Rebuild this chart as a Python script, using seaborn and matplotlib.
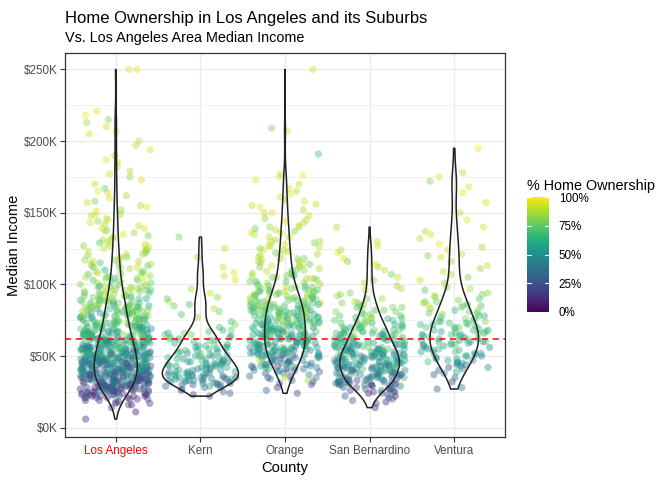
import numpy as np
import pandas as pd
import matplotlib
matplotlib.use("Agg")
import matplotlib.pyplot as plt
import seaborn as sns
from matplotlib.ticker import FuncFormatter, MultipleLocator
from matplotlib.cm import ScalarMappable
from matplotlib.colors import Normalize

# ---------------- data: (median income in $K, % home ownership) ----------------
counties = ["Los Angeles", "Kern", "Orange", "San Bernardino", "Ventura"]
la_median_income = 62  # $K, LA area median income (red dashed line)

los_angeles = [
    (6,10),(11,5),(14,15),
    (16,8),(17,12),(18,6),(18,20),(19,10),(19,15),(17,25),(16,18),
    (20,12),(21,8),(21,18),(22,22),(22,10),(23,14),(23,30),(23,6),(24,20),(24,12),(20,25),(21,16),(22,28),(24,9),(23,19),(24,33),(22,15),(21,11),
    (25,15),(25,22),(26,10),(26,30),(26,18),(27,25),(27,12),(27,35),(28,20),(28,14),(28,28),(29,18),(29,40),(29,8),(25,35),(26,24),(27,19),(28,45),(29,26),(25,11),(26,16),(27,30),(28,22),(29,33),(25,27),(26,38),(27,9),(28,17),
    (30,20),(30,30),(30,14),(31,25),(31,40),(31,18),(32,22),(32,35),(32,12),(33,28),(33,45),(33,20),(34,30),(34,16),(34,50),(30,38),(31,10),(32,27),(33,33),(34,24),(30,42),(31,31),(32,19),(33,55),(34,36),(30,25),(31,48),(32,44),(33,15),(34,29),(30,17),(31,36),(32,52),(33,23),(34,41),
    (35,25),(35,40),(35,18),(36,32),(36,55),(36,22),(37,28),(37,45),(37,15),(38,35),(38,60),(38,24),(39,30),(39,48),(39,20),(35,50),(36,38),(37,34),(38,42),(39,27),(35,33),(36,26),(37,58),(38,19),(39,52),(35,44),(36,47),(37,23),(38,31),(39,38),(35,29),(36,62),(37,40),(38,51),(39,35),(35,21),(36,30),(37,46),
    (40,30),(40,45),(40,22),(41,38),(41,55),(41,28),(42,35),(42,62),(42,25),(43,42),(43,50),(43,30),(44,36),(44,58),(44,24),(40,52),(41,40),(42,47),(43,33),(44,45),(40,37),(41,65),(42,29),(43,56),(44,40),(40,27),(41,48),(42,41),(43,20),(44,52),(40,60),(41,34),(42,53),(43,38),(44,30),(40,43),(41,25),(42,70),
    (45,35),(45,50),(45,28),(46,42),(46,60),(46,32),(47,38),(47,55),(47,26),(48,45),(48,65),(48,35),(49,40),(49,58),(49,30),(45,62),(46,48),(47,44),(48,52),(49,36),(45,42),(46,70),(47,33),(48,57),(49,47),(45,55),(46,38),(47,64),(48,29),(49,68),(45,31),(46,53),(47,49),(48,40),(49,24),(45,72),
    (50,40),(50,55),(50,32),(51,48),(51,65),(51,38),(52,44),(52,60),(52,30),(53,52),(53,70),(53,40),(54,46),(54,62),(54,35),(50,68),(51,57),(52,50),(53,45),(54,55),(50,47),(51,72),(52,37),(53,63),(54,42),(50,60),(51,43),(52,75),(53,34),(54,66),(50,52),(52,58),
    (55,45),(55,62),(55,38),(56,52),(56,70),(56,42),(57,48),(57,65),(57,35),(58,55),(58,75),(58,44),(59,50),(59,68),(59,40),(55,58),(56,60),(57,54),(58,62),(59,57),(55,70),(56,47),(57,72),(58,50),(59,63),(55,52),(57,42),(59,78),
    (60,50),(60,65),(60,40),(61,55),(61,72),(61,45),(62,58),(62,68),(62,38),(63,60),(63,76),(63,48),(64,54),(64,70),(64,44),(60,58),(61,62),(62,52),(63,66),(64,60),(60,74),(61,50),(62,80),(63,42),(64,64),
    (65,55),(65,70),(65,45),(66,60),(66,78),(66,50),(67,62),(67,72),(67,42),(68,65),(68,80),(68,52),(69,58),(69,74),(69,48),(65,62),(66,68),(67,56),(68,70),(69,64),(65,82),(67,50),
    (70,60),(70,75),(70,50),(71,65),(71,80),(71,55),(72,68),(72,78),(72,46),(73,70),(73,84),(73,58),(74,62),(74,76),(74,52),(70,70),(71,64),(72,60),(74,82),
    (75,62),(75,78),(75,52),(76,68),(76,84),(76,58),(77,70),(77,80),(77,48),(78,72),(78,86),(78,60),(79,66),(79,78),(79,55),(76,74),(78,64),
    (80,65),(80,80),(80,55),(81,72),(81,85),(82,60),(82,76),(82,88),(83,70),(83,82),(83,50),(84,68),(84,78),(84,62),(81,74),
    (85,70),(85,82),(85,58),(86,75),(86,88),(87,65),(87,80),(88,72),(88,85),(88,55),(89,78),(89,68),(86,62),
    (90,72),(90,85),(90,60),(91,78),(92,66),(92,88),(93,75),(93,82),(94,70),(94,90),(91,58),
    (95,75),(95,88),(96,68),(96,82),(97,78),(97,90),(98,72),(98,85),(99,64),(99,80),
    (100,78),(101,85),(102,70),(102,90),(103,80),(104,65),(104,88),(105,76),(106,84),(107,72),(107,92),(108,80),(109,86),(110,60),
    (111,82),(112,90),(113,75),(114,86),(115,70),(116,92),(117,80),(118,88),(119,78),(120,84),
    (121,88),(122,80),(123,92),(124,76),(125,86),(126,94),(127,82),(128,90),(129,72),
    (131,85),(132,92),(134,80),(135,95),(137,88),(138,84),(139,96),
    (141,90),(143,94),(144,82),(146,88),(148,96),(149,86),
    (151,92),(152,84),(154,96),(155,88),(157,90),(158,80),(160,94),(162,86),(164,92),(165,97),(167,78),(170,90),(173,94),(175,84),(177,92),(179,88),(182,96),(185,90),(187,94),(190,86),(194,92),(197,88),
    (200,90),(205,94),(207,96),(210,92),(213,86),(215,80),(218,98),(221,95),(250,96),(250,94),
    # more tracts
    (20,15),(21,22),(22,8),(23,18),(24,26),(25,12),(26,20),(27,32),(28,10),(29,22),(25,30),(27,16),(29,14),(23,24),(26,34),
    (30,28),(31,22),(32,40),(33,18),(34,33),(35,26),(36,42),(37,20),(38,28),(39,45),(30,33),(31,14),(32,30),(33,38),(34,20),(35,37),(36,18),(37,31),(38,47),(39,24),(30,45),(32,16),(34,44),(36,35),(38,22),
    (40,35),(41,50),(42,32),(43,46),(44,28),(45,40),(46,55),(47,30),(48,48),(49,36),(40,48),(41,30),(42,58),(43,26),(44,62),(45,45),(46,35),(47,60),(48,33),(49,52),(40,25),(42,44),(44,38),(46,66),(48,42),(41,58),(43,35),(45,25),(47,50),(49,45),
    (50,45),(51,60),(52,40),(53,55),(54,38),(55,65),(56,50),(57,40),(58,66),(59,46),(50,58),(51,35),(52,66),(53,48),(54,72),(55,42),(56,58),(57,74),(58,38),(59,60),(50,50),(52,54),(54,58),(56,44),(58,70),(51,52),(53,62),(55,50),(57,58),(59,72),
    (60,62),(61,46),(62,70),(63,54),(64,76),(65,50),(66,66),(67,76),(68,56),(69,70),(60,55),(61,68),(62,48),(63,72),(64,58),(65,74),(66,54),(67,66),(68,76),(69,60),(60,68),(62,62),(64,68),(66,72),(68,62),
    (70,66),(71,72),(72,62),(73,78),(74,68),(75,74),(76,62),(77,76),(78,80),(79,70),(70,78),(71,58),(72,74),(73,66),(74,72),(75,82),(76,70),(77,64),(78,76),(79,84),
    (80,74),(81,68),(82,80),(83,76),(84,84),(85,74),(86,80),(87,70),(88,82),(89,76),(80,70),(82,84),(84,74),(86,72),(88,78),(81,80),(83,66),(85,86),
    (90,78),(91,84),(92,74),(93,80),(94,76),(95,82),(96,78),(97,84),(98,70),(99,86),(90,66),(92,82),(94,78),(96,88),(98,82),
    (100,82),(101,76),(102,86),(103,72),(104,84),(105,88),(106,78),(107,82),(108,90),(109,76),(111,86),(113,82),(115,88),(117,84),(119,90),(112,76),(114,80),(116,86),
    (121,84),(123,88),(125,90),(127,86),(129,92),(131,88),(133,90),(136,84),(139,92),(142,88),(145,92),(148,90),
]

kern = [
    (22,20),(23,15),(24,25),(25,32),(26,22),(27,28),(28,20),(28,35),(29,30),(29,55),(30,25),(30,40),
    (30,48),(31,35),(31,55),(32,30),(32,45),(33,40),(33,60),(34,35),(34,50),(35,42),(35,58),(36,38),(36,52),(36,62),(37,45),(37,30),(38,55),(38,40),(39,48),(39,60),(31,42),(33,52),(35,35),(37,57),(39,44),(34,64),
    (30,38),(31,30),(32,52),(33,35),(34,42),(35,50),(36,45),(37,38),(38,48),(39,52),(33,46),(35,28),(37,62),
    (40,50),(40,62),(41,45),(42,55),(42,68),(43,48),(44,58),(45,52),(45,65),(46,42),(46,60),(47,55),(47,70),(48,50),(48,62),(49,58),(41,38),(43,65),(44,45),(49,68),
    (40,40),(41,55),(42,48),(43,58),(44,52),(45,60),(47,48),(45,48),(46,55),(48,58),(44,60),(42,62),
    (50,55),(51,65),(52,48),(53,62),(54,70),(55,58),(56,66),(57,52),(58,72),(59,60),(52,75),(56,45),(50,60),(52,66),(55,62),
    (50,52),(51,58),(53,50),(54,62),(56,58),(57,64),(58,55),
    (60,65),(61,72),(62,58),(63,70),(64,62),(65,78),(66,62),(67,70),(68,75),(70,68),(72,80),(74,70),(77,84),(79,72),(62,74),(66,80),
    (61,66),(63,60),(65,70),(68,64),
    (81,78),(83,88),(85,75),(88,90),(91,82),(94,92),(97,86),(86,70),(90,76),
    (103,94),(106,90),(108,95),(112,92),(119,88),(125,90),(133,80),
]

orange = [
    (24,20),(26,30),(28,15),(30,25),(31,35),(32,18),(33,28),(34,40),(35,22),(36,32),(36,12),(37,45),(38,26),(38,38),(39,30),(39,50),(35,42),(33,85),(35,90),
    (40,30),(40,45),(41,22),(41,38),(42,50),(42,28),(43,35),(43,55),(44,25),(44,42),(45,32),(45,48),(46,38),(46,60),(47,28),(47,44),(48,52),(48,35),(49,40),(49,58),(41,65),(43,20),(45,70),(47,88),
    (50,35),(50,50),(50,62),(51,40),(51,55),(52,30),(52,48),(52,68),(53,42),(53,58),(54,36),(54,52),(54,70),(55,45),(55,60),(56,38),(56,55),(56,72),(57,48),(57,62),(58,40),(58,56),(58,75),(59,50),(59,65),(50,28),(51,45),(53,66),(55,33),(57,52),(59,44),(52,58),(54,46),(56,64),
    (60,45),(60,60),(60,72),(61,50),(61,66),(62,40),(62,58),(62,76),(63,52),(63,68),(64,46),(64,62),(64,78),(65,55),(65,70),(66,48),(66,64),(66,80),(67,58),(67,72),(68,50),(68,66),(68,82),(69,60),(69,74),(60,36),(61,56),(63,42),(65,62),(67,48),(69,54),(62,68),(64,55),(66,58),
    (70,55),(70,68),(70,80),(71,60),(71,74),(72,50),(72,65),(72,84),(73,62),(73,76),(74,56),(74,70),(74,86),(75,64),(75,78),(76,58),(76,72),(76,88),(77,66),(77,80),(78,60),(78,74),(79,68),(79,82),(70,46),(72,58),(74,62),(76,66),(78,52),(71,70),(73,56),(77,60),
    (80,62),(80,76),(80,88),(81,66),(81,80),(82,58),(82,72),(82,90),(83,68),(83,82),(84,62),(84,76),(85,70),(85,86),(86,64),(86,78),(87,72),(87,88),(88,66),(88,80),(89,74),(89,90),(80,56),(82,64),(84,70),(86,60),(88,76),(81,72),(83,60),(85,78),
    (90,70),(90,84),(91,76),(91,90),(92,66),(92,80),(93,74),(93,88),(94,70),(94,84),(95,78),(95,92),(96,72),(96,86),(97,68),(97,80),(98,76),(98,90),(99,82),(99,70),(91,62),(95,66),
    (100,78),(101,88),(102,72),(103,84),(104,92),(105,76),(106,86),(107,70),(108,82),(109,90),(110,76),(111,88),(112,80),(113,92),(114,74),(115,86),(116,82),(117,90),(118,78),(119,94),(102,66),(106,60),(110,84),(114,90),(118,85),(104,80),
    (120,84),(121,92),(122,78),(123,88),(124,94),(125,82),(126,90),(127,86),(128,96),(129,80),(130,90),(131,84),(133,92),(135,88),(136,96),(137,82),(138,90),(139,76),
    (140,86),(141,94),(143,88),(144,96),(146,82),(148,92),(150,90),(152,86),(154,98),(156,90),(158,94),(159,88),
    (161,92),(163,96),(165,88),(167,94),(170,90),(173,97),(175,95),(176,98),(177,92),(191,70),
    (207,96),(209,80),(250,94),
    # more tracts
    (40,38),(41,48),(42,36),(43,44),(44,52),(45,40),(46,46),(47,36),(48,44),(49,50),(42,42),(46,30),
    (50,44),(51,58),(52,52),(53,48),(54,60),(55,50),(56,44),(57,56),(58,62),(59,52),(50,56),(52,44),(54,54),(56,60),(58,48),(51,50),(53,52),(55,64),(57,44),(59,58),
    (60,52),(61,62),(62,50),(63,64),(64,52),(65,66),(66,56),(67,64),(68,58),(69,68),(60,64),(62,54),(64,70),(66,52),(68,62),(61,60),(63,56),(65,58),(67,68),(69,62),
    (70,62),(71,66),(72,72),(73,68),(74,74),(75,70),(76,62),(77,74),(78,68),(79,76),(70,72),(72,60),(74,66),(76,78),(78,70),(71,64),(73,72),(75,60),(77,70),(79,64),
    (80,70),(81,76),(82,68),(83,74),(84,80),(85,72),(86,76),(87,68),(88,84),(89,70),(80,80),(82,78),(84,66),(86,84),(88,72),(81,62),(83,78),(85,64),
    (90,76),(91,80),(92,72),(93,84),(94,78),(95,74),(96,82),(97,76),(98,84),(99,74),(90,88),(92,76),(94,82),(96,70),
    (100,84),(102,80),(104,86),(106,82),(108,88),(110,80),(112,86),(114,84),(116,88),(118,82),(101,80),(105,84),
    (121,86),(124,88),(127,92),(130,86),(133,90),(136,92),(140,88),(145,90),(150,94),(155,92),
]

san_bernardino = [
    (14,15),(17,20),(18,10),(19,25),(20,18),(21,30),(22,12),(23,22),(24,35),(25,15),(25,28),(26,20),(26,40),(27,25),(27,12),(28,32),(28,18),(29,38),(29,24),(22,28),(24,8),(27,45),
    (30,20),(30,35),(30,48),(31,28),(31,42),(32,22),(32,38),(32,55),(33,30),(33,45),(34,25),(34,40),(34,58),(35,32),(35,48),(36,28),(36,44),(36,60),(37,35),(37,50),(38,30),(38,46),(38,62),(39,38),(39,54),(30,15),(31,60),(33,18),(35,65),(37,22),(39,42),(32,30),(34,52),(36,36),(38,56),(31,50),
    (40,35),(40,50),(40,65),(41,40),(41,55),(42,30),(42,46),(42,62),(43,38),(43,52),(43,68),(44,42),(44,58),(45,32),(45,48),(45,64),(46,40),(46,55),(46,70),(47,44),(47,60),(48,36),(48,52),(48,66),(49,46),(49,62),(40,25),(41,70),(42,55),(43,28),(44,50),(45,72),(46,34),(47,52),(48,44),(49,56),(40,45),(42,38),(44,65),(46,48),
    (50,42),(50,58),(50,72),(51,48),(51,62),(52,38),(52,54),(52,70),(53,45),(53,60),(54,50),(54,66),(55,40),(55,56),(55,74),(56,48),(56,62),(57,52),(57,68),(58,44),(58,60),(59,55),(59,70),(50,35),(52,64),(54,40),(56,76),(58,52),(51,56),(53,68),(55,48),(57,60),
    (60,50),(60,66),(61,58),(61,74),(62,54),(62,70),(63,60),(63,48),(64,65),(64,78),(65,56),(66,70),(66,62),(67,76),(68,58),(68,72),(69,66),(69,80),(62,62),(65,68),
    (70,62),(70,76),(71,68),(72,80),(73,64),(74,74),(75,70),(75,84),(76,66),(77,78),(78,72),(79,82),(72,58),(76,88),
    (80,72),(81,82),(82,76),(83,88),(84,70),(85,80),(86,84),(87,74),(88,90),(90,78),(92,86),(94,80),(96,90),(99,84),
    (101,88),(103,82),(105,92),(107,78),(110,90),(112,86),(114,94),(116,80),(118,92),(122,96),(124,88),(127,94),(130,92),(140,88),
    # more tracts
    (25,22),(27,30),(29,18),(30,26),(31,34),(32,44),(33,24),(34,36),(35,40),(36,50),(37,28),(38,40),(39,48),(30,40),(32,26),(34,46),(36,22),(38,34),
    (40,40),(41,48),(42,42),(43,56),(44,34),(45,54),(46,60),(47,40),(48,58),(49,50),(40,56),(42,50),(44,44),(46,52),(48,48),(41,36),(43,46),(45,58),(47,66),(49,40),
    (50,50),(51,42),(52,58),(53,52),(54,62),(55,46),(56,54),(57,64),(58,56),(59,48),(50,64),(52,46),(54,56),(56,66),(58,64),(53,38),
    (55,58),(57,50),(59,62),(52,50),(50,46),
    (60,58),(61,64),(62,66),(63,70),(64,56),(65,62),(66,74),(67,60),(68,66),(69,72),(70,70),(72,66),(74,78),(76,72),(78,68),
    (60,62),(61,54),(63,66),(64,72),(66,58),(67,68),(68,74),(70,64),(71,72),(73,70),(75,76),(77,66),(79,74),(82,70),(84,78),(65,60),(72,72),
    (81,76),(84,82),(87,80),(90,86),(93,82),(97,88),
]

ventura = [
    (27,30),(28,40),(32,22),(35,35),(37,28),(38,45),(40,32),(41,50),(42,25),(43,40),(44,55),(44,35),(42,48),(39,60),
    (45,38),(45,55),(46,45),(47,60),(48,42),(48,58),(49,50),(50,65),(50,40),(51,55),(52,48),(52,66),(53,58),(54,44),(54,62),(55,52),(56,68),(56,46),(57,60),(58,54),(58,70),(59,48),(59,64),(46,70),(53,72),(57,40),
    (60,55),(60,70),(61,62),(61,48),(62,66),(63,58),(63,74),(64,60),(65,68),(65,52),(66,72),(66,62),(67,56),(68,70),(68,64),(69,76),(70,60),(70,72),(71,66),(72,78),(72,58),(73,70),(74,64),(74,80),(62,75),(67,80),
    (75,68),(76,76),(77,62),(78,72),(79,82),(80,70),(81,78),(82,66),(83,84),(84,74),(85,80),(86,70),(87,86),(88,76),(89,82),(90,72),(91,88),(93,78),(94,84),(96,74),(97,88),(98,80),(85,90),(92,82),
    (101,84),(103,90),(105,80),(107,88),(109,92),(111,84),(113,90),(116,86),(119,94),(121,88),(124,92),(126,86),(128,96),(120,80),
    (132,90),(135,94),(137,88),(140,92),(145,96),(150,90),(157,94),(164,96),(168,95),(172,82),(175,94),(178,88),(195,98),
    # more tracts
    (55,60),(58,64),(60,62),(62,58),(64,70),(66,66),(68,60),(70,74),(72,68),(74,72),(76,80),(78,66),(80,76),(82,84),(85,72),(88,80),(60,50),(65,56),(69,68),(73,62),(50,52),(52,58),(47,48),
]

y_ticks = [0, 50, 100, 150, 200, 250]
legend_ticks = [0, 25, 50, 75, 100]

# ---------------- build table ----------------
rows = []
for name, pts in zip(counties, [los_angeles, kern, orange, san_bernardino, ventura]):
    for inc, own in pts:
        rows.append((name, inc, own))
df = pd.DataFrame(rows, columns=["County", "Income", "Ownership"])

# ---------------- style ----------------
sns.set_theme(style="white")
plt.rcParams["font.family"] = ["Liberation Sans", "DejaVu Sans"]

fig = plt.figure(figsize=(6.72, 4.8), dpi=100)
ax = fig.add_axes([65/672, 1-437/480, (505-65)/672, (437-53)/480])

np.random.seed(7)
sns.stripplot(data=df, x="County", y="Income", order=counties, hue="Ownership",
              palette="viridis", hue_norm=(0, 100), jitter=0.42, size=5.2,
              alpha=0.42, linewidth=0, legend=False, ax=ax, zorder=2)
sns.violinplot(data=df, x="County", y="Income", order=counties, fill=False,
               color="#222222", linewidth=1.1, inner=None, cut=0,
               density_norm="area", width=0.9, bw_adjust=0.7, ax=ax, zorder=3)
ax.axhline(la_median_income, color="red", linestyle=(0, (4, 3)), linewidth=1.1, zorder=4)

ax.set_xlim(-0.6, 4.6)
ax.set_ylim(-6.5, 261.5)
ax.set_yticks(y_ticks)
ax.yaxis.set_minor_locator(MultipleLocator(25))
ax.yaxis.set_major_formatter(FuncFormatter(lambda v, p: f"${int(v)}K"))

ax.set_axisbelow(True)
ax.grid(True, which="major", color="#EBEBEB", linewidth=1.0)
ax.grid(True, which="minor", axis="y", color="#EBEBEB", linewidth=0.5)
for s in ax.spines.values():
    s.set_color("#333333")
    s.set_linewidth(0.9)

ax.tick_params(axis="both", which="major", length=3.5, width=0.8, color="#333333",
               labelsize=8.4, labelcolor="#4D4D4D", pad=2, bottom=True, left=True)
ax.tick_params(axis="y", which="minor", length=0)
ax.get_xticklabels()[0].set_color("red")

ax.set_xlabel("County", fontsize=10.6, color="black", labelpad=3)
ax.set_ylabel("Median Income", fontsize=10.6, color="black", labelpad=2)

fig.text(65/672, 1-23/480, "Home Ownership in Los Angeles and its Suburbs",
         fontsize=12.0, color="black", va="baseline", ha="left")
fig.text(65/672, 1-42/480, "Vs. Los Angeles Area Median Income",
         fontsize=10.4, color="black", va="baseline", ha="left")

# ---------------- colorbar legend ----------------
cax = fig.add_axes([527/672, 1-312/480, 22/672, 115/480])
sm = ScalarMappable(norm=Normalize(0, 100), cmap="viridis")
cb = fig.colorbar(sm, cax=cax, ticks=legend_ticks)
cb.outline.set_visible(False)
cb.ax.set_yticklabels([f"{t}%" for t in legend_ticks])
cb.ax.tick_params(length=0, labelsize=8.4, labelcolor="black", pad=7)
for t in legend_ticks:
    cax.axhline(t, xmin=0, xmax=0.2, color="white", linewidth=0.8)
    cax.axhline(t, xmin=0.8, xmax=1, color="white", linewidth=0.8)
fig.text(527/672, 1-190/480, "% Home Ownership", fontsize=10.4, color="black",
         va="baseline", ha="left")

fig.savefig("out.png", dpi=100)
